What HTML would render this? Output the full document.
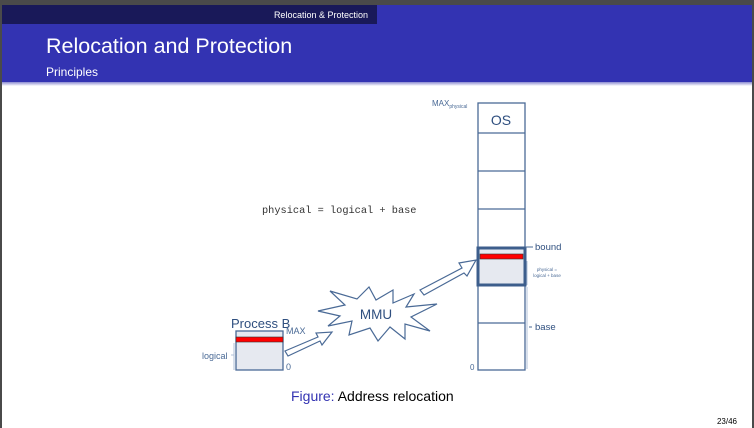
<!DOCTYPE html>
<html><head><style>
body{margin:0;width:754px;height:428px;overflow:hidden;background:#fff;font-family:"Liberation Sans",sans-serif}
</style></head><body>
<svg width="754" height="428" xmlns="http://www.w3.org/2000/svg" style="position:absolute;left:0;top:0">
<defs><linearGradient id="sh" x1="0" y1="0" x2="0" y2="1"><stop offset="0" stop-color="#8a8ad0"/><stop offset="1" stop-color="#fff"/></linearGradient></defs>
<rect x="0" y="0" width="754" height="428" fill="#4a4a4a"/>
<rect x="2" y="5" width="750" height="423" fill="#fff"/>
<rect x="2" y="5" width="750" height="77" fill="#3333b2"/>
<rect x="2" y="5" width="375" height="19" fill="#191959"/>
<rect x="2" y="82" width="750" height="4" fill="url(#sh)"/>
<text x="368" y="18" font-size="9" fill="#fff" text-anchor="end">Relocation &amp; Protection</text>
<text x="46" y="53" font-size="21.5" fill="#fff">Relocation and Protection</text>
<text x="46" y="76" font-size="12" fill="#fff">Principles</text>

<text x="262" y="213" font-family="Liberation Mono,monospace" font-size="10.3" fill="#333">physical = logical + base</text>

<g stroke="#4a6a96" fill="none" stroke-width="1.3">
<rect x="478" y="103" width="47" height="267"/>
<line x1="478" y1="133" x2="525" y2="133"/>
<line x1="478" y1="171" x2="525" y2="171"/>
<line x1="478" y1="209" x2="525" y2="209"/>
<line x1="478" y1="323" x2="525" y2="323"/>
</g>
<rect x="478" y="248" width="47" height="37" fill="#e6e9f0" stroke="#3d5e8c" stroke-width="3"/>
<rect x="480" y="254" width="43" height="5" fill="#f00" stroke="#333" stroke-width="0.6"/>
<text x="501" y="125" font-size="14" fill="#2f4f7f" text-anchor="middle">OS</text>
<text x="432" y="106" font-size="8" fill="#4a6a96">MAX<tspan font-size="5" dy="2">physical</tspan></text>
<line x1="525" y1="247" x2="533" y2="247" stroke="#4a6a96"/>
<text x="535" y="250" font-size="9.5" fill="#2f4f7f">bound</text>
<path d="M527 261v24M527 287v82" stroke="#b0c0d8" fill="none"/>
<text x="547" y="271" font-size="4.5" fill="#4a6a96" text-anchor="middle">physical =</text>
<text x="547" y="277" font-size="4.5" fill="#4a6a96" text-anchor="middle">logical + base</text>
<line x1="529" y1="327" x2="532" y2="327" stroke="#4a6a96"/>
<text x="535" y="330" font-size="9.5" fill="#2f4f7f">base</text>
<text x="470" y="370" font-size="8" fill="#4a6a96">0</text>

<rect x="236" y="331" width="47" height="39" fill="#e6e9f0" stroke="#4a6a96" stroke-width="1.3"/>
<rect x="236" y="337" width="47" height="5" fill="#f00" stroke="#333" stroke-width="0.6"/>
<text x="231" y="328" font-size="13" fill="#2f4f7f">Process B</text>
<text x="286" y="334" font-size="9" fill="#4a6a96">MAX</text>
<text x="286" y="370" font-size="9" fill="#4a6a96">0</text>
<text x="202" y="359" font-size="9" fill="#4a6a96">logical</text>
<path d="M231 355h3M234 343v27" stroke="#b0c0d8" fill="none"/>

<g fill="#fff" stroke="#4a6a96" stroke-width="1.2">
<polygon points="285,351 318,337 316,333 332,332 322,345 320,341 288,356"/>
<polygon points="420,290 462,268 459,263 476,260 467,276 464,273 424,295"/>
<polygon points="318,311 345,305 330,291 357,299 369,287 376,300 393,290 393,303 414,294 406,307 437,304 411,317 430,331 405,324 405,339 390,327 378,341 370,328 349,335 352,321 328,326 340,316"/>
</g>
<text x="376" y="319" font-size="13.5" fill="#2f4f7f" text-anchor="middle">MMU</text>

<text x="291" y="401" font-size="14"><tspan fill="#3333b2">Figure:</tspan><tspan fill="#000"> Address relocation</tspan></text>
<text x="737" y="424" font-size="8" fill="#000" text-anchor="end">23/46</text>
</svg>
</body></html>
